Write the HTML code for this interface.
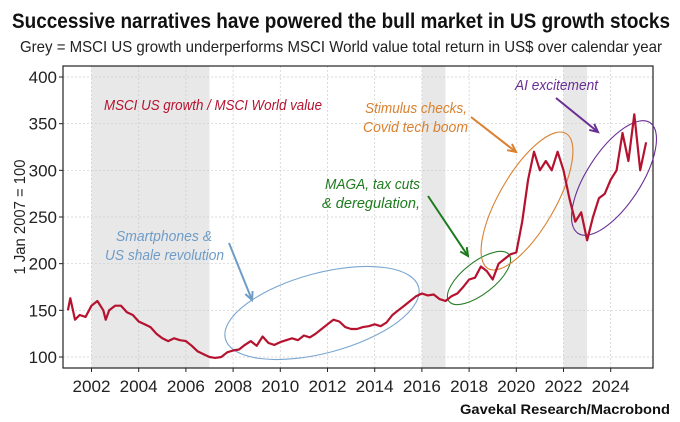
<!DOCTYPE html>
<html><head><meta charset="utf-8"><style>
html,body{margin:0;padding:0;background:#fff;}
svg{display:block;font-family:"Liberation Sans Narrow","Liberation Sans",sans-serif;}
</style></head><body>
<svg id="chart" width="680" height="422" viewBox="0 0 680 422" xmlns="http://www.w3.org/2000/svg">
<text x="12" y="28" font-size="21" font-weight="bold" textLength="658" lengthAdjust="spacingAndGlyphs" fill="#111">Successive narratives have powered the bull market in US growth stocks</text>
<text x="20" y="52" font-size="16" textLength="642" lengthAdjust="spacingAndGlyphs" fill="#222">Grey = MSCI US growth underperforms MSCI World value total return in US$ over calendar year</text>
<g id="bands"></g>
<g id="grid"></g>
<g id="axes"></g>
<g id="series"></g>
<g id="notes" font-size="15" font-style="italic">
<text x="104" y="110" textLength="218" lengthAdjust="spacingAndGlyphs" fill="#b5122f">MSCI US growth / MSCI World value</text>
<text fill="#6f9cc7"><tspan x="116" y="241" textLength="96" lengthAdjust="spacingAndGlyphs">Smartphones &amp;</tspan><tspan x="105" y="260" textLength="119" lengthAdjust="spacingAndGlyphs">US shale revolution</tspan></text>
<text fill="#1e7a1e"><tspan x="325" y="189" textLength="95" lengthAdjust="spacingAndGlyphs">MAGA, tax cuts</tspan><tspan x="322" y="208" textLength="98" lengthAdjust="spacingAndGlyphs">&amp; deregulation,</tspan></text>
<text fill="#d9812f"><tspan x="365" y="113" textLength="102" lengthAdjust="spacingAndGlyphs">Stimulus checks,</tspan><tspan x="363" y="132" textLength="105" lengthAdjust="spacingAndGlyphs">Covid tech boom</tspan></text>
<text x="515" y="90" textLength="83" lengthAdjust="spacingAndGlyphs" fill="#6a2f95">AI excitement</text>
<text x="670" y="414" font-size="14" font-style="normal" font-weight="bold" text-anchor="end" textLength="210" lengthAdjust="spacingAndGlyphs" fill="#111">Gavekal Research/Macrobond</text>
</g>
</svg>
<script>
const years=[2001,2001.1,2001.3,2001.5,2001.75,2002,2002.25,2002.5,2002.6,2002.75,2003,2003.25,2003.5,2003.75,2004,2004.25,2004.5,2004.75,2005,2005.25,2005.5,2005.75,2006,2006.25,2006.5,2006.75,2007,2007.25,2007.5,2007.75,2008,2008.25,2008.5,2008.75,2009,2009.25,2009.5,2009.75,2010,2010.25,2010.5,2010.75,2011,2011.25,2011.5,2011.75,2012,2012.25,2012.5,2012.75,2013,2013.25,2013.5,2013.75,2014,2014.25,2014.5,2014.75,2015,2015.25,2015.5,2015.75,2016,2016.25,2016.5,2016.75,2017,2017.25,2017.5,2017.75,2018,2018.25,2018.5,2018.75,2019,2019.25,2019.5,2019.75,2020,2020.25,2020.5,2020.75,2021,2021.25,2021.5,2021.75,2022,2022.25,2022.5,2022.75,2023,2023.25,2023.5,2023.75,2024,2024.25,2024.5,2024.75,2025,2025.25,2025.5];
const ratio=[150,163,140,145,143,155,160,150,140,150,155,155,148,145,138,135,132,125,120,117,120,118,117,112,106,103,100,99,100,105,107,108,113,117,112,122,115,113,116,118,120,118,123,121,125,130,135,140,138,132,130,130,132,133,135,133,137,145,150,155,160,165,168,166,167,162,160,165,168,175,183,185,197,192,183,200,205,210,212,245,290,320,300,310,300,320,300,270,245,255,225,250,270,275,290,300,340,310,360,300,330];
const greyYears=[[2002,2007],[2016,2017],[2022,2023]];
const yTicks=[100,150,200,250,300,350,400];
const xTicks=[2002,2004,2006,2008,2010,2012,2014,2016,2018,2020,2022,2024];
const NS='http://www.w3.org/2000/svg';
const L=63,R=653,T=66,B=368;
const xs=y=>91.5+(y-2002)*23.6;
const ys=v=>357-(v-100)*280/300;
function mk(tag,attrs,parent){const e=document.createElementNS(NS,tag);for(const k in attrs)e.setAttribute(k,attrs[k]);parent.appendChild(e);return e;}
const bands=document.getElementById('bands'),grid=document.getElementById('grid'),axes=document.getElementById('axes'),series=document.getElementById('series');
greyYears.forEach(g=>{const r=mk('rect',{x:xs(g[0]),y:T,width:xs(g[1])-xs(g[0]),height:B-T,fill:'#e8e8e8'},bands);

});
yTicks.forEach(v=>{const l=mk('line',{x1:L,x2:R,y1:ys(v),y2:ys(v),stroke:'#ccc','stroke-dasharray':'2,2','stroke-width':0.7},grid);


mk('line',{x1:L-4,x2:L,y1:ys(v),y2:ys(v),stroke:'#222'},axes);
const t=mk('text',{x:L-6,y:ys(v)+6,'font-size':17,'text-anchor':'end',fill:'#222'},axes);t.textContent=v;

});
xTicks.forEach(v=>{const l=mk('line',{x1:xs(v),x2:xs(v),y1:T,y2:B,stroke:'#ccc','stroke-dasharray':'2,2','stroke-width':0.7},grid);


mk('line',{x1:xs(v),x2:xs(v),y1:B,y2:B+4,stroke:'#222'},axes);
const t=mk('text',{x:xs(v),y:392,'font-size':17,'text-anchor':'middle',fill:'#222',textLength:38,lengthAdjust:'spacingAndGlyphs'},axes);t.textContent=v;

});
const fr=mk('rect',{x:L,y:T,width:R-L,height:B-T,fill:'none',stroke:'#222','stroke-width':1.2},axes);


const yt=mk('text',{x:0,y:0,'font-size':16,'text-anchor':'middle',fill:'#222',transform:'translate(25,217) rotate(-90)',textLength:115,lengthAdjust:'spacingAndGlyphs'},axes);yt.textContent='1 Jan 2007 = 100';


const ells=[['blue-ellipse',322,313,100,40,-15,'#7aa6cf'],['green-ellipse',479,278,38,16,-38,'#2a7f2a'],['orange-ellipse',527,201,28,78,30,'#d9812f'],['purple-ellipse',614,178,27,66,33,'#6a2f95']];
ells.forEach(e=>{const el=mk('ellipse',{cx:e[1],cy:e[2],rx:e[3],ry:e[4],transform:`rotate(${e[5]} ${e[1]} ${e[2]})`,fill:'none',stroke:e[6],'stroke-width':1.1},series);

});
const p=mk('path',{d:years.map((y,i)=>(i?'L':'M')+xs(y).toFixed(1)+','+ys(ratio[i]).toFixed(1)).join(''),fill:'none',stroke:'#b5122f','stroke-width':2.2,'stroke-linejoin':'round'},series);


const arrows=[['smartphones-arrow',229,243,252,300,'#6f9cc7'],['maga-arrow',428,196,468,256,'#1e7a1e'],['stimulus-arrow',471,117,516,152,'#d9812f'],['ai-arrow',556,98,598,132,'#6a2f95']];
arrows.forEach(a=>{const g=mk('g',{},series);


mk('line',{x1:a[1],y1:a[2],x2:a[3],y2:a[4],stroke:a[5],'stroke-width':2},g);
const ang=Math.atan2(a[4]-a[2],a[3]-a[1]),s=9;
const p1=[a[3]-s*Math.cos(ang-0.45),a[4]-s*Math.sin(ang-0.45)],p2=[a[3]-s*Math.cos(ang+0.45),a[4]-s*Math.sin(ang+0.45)];
mk('polyline',{points:`${p1} ${a[3]},${a[4]} ${p2}`,fill:'none',stroke:a[5],'stroke-width':2},g);});
</script>
</body></html>
